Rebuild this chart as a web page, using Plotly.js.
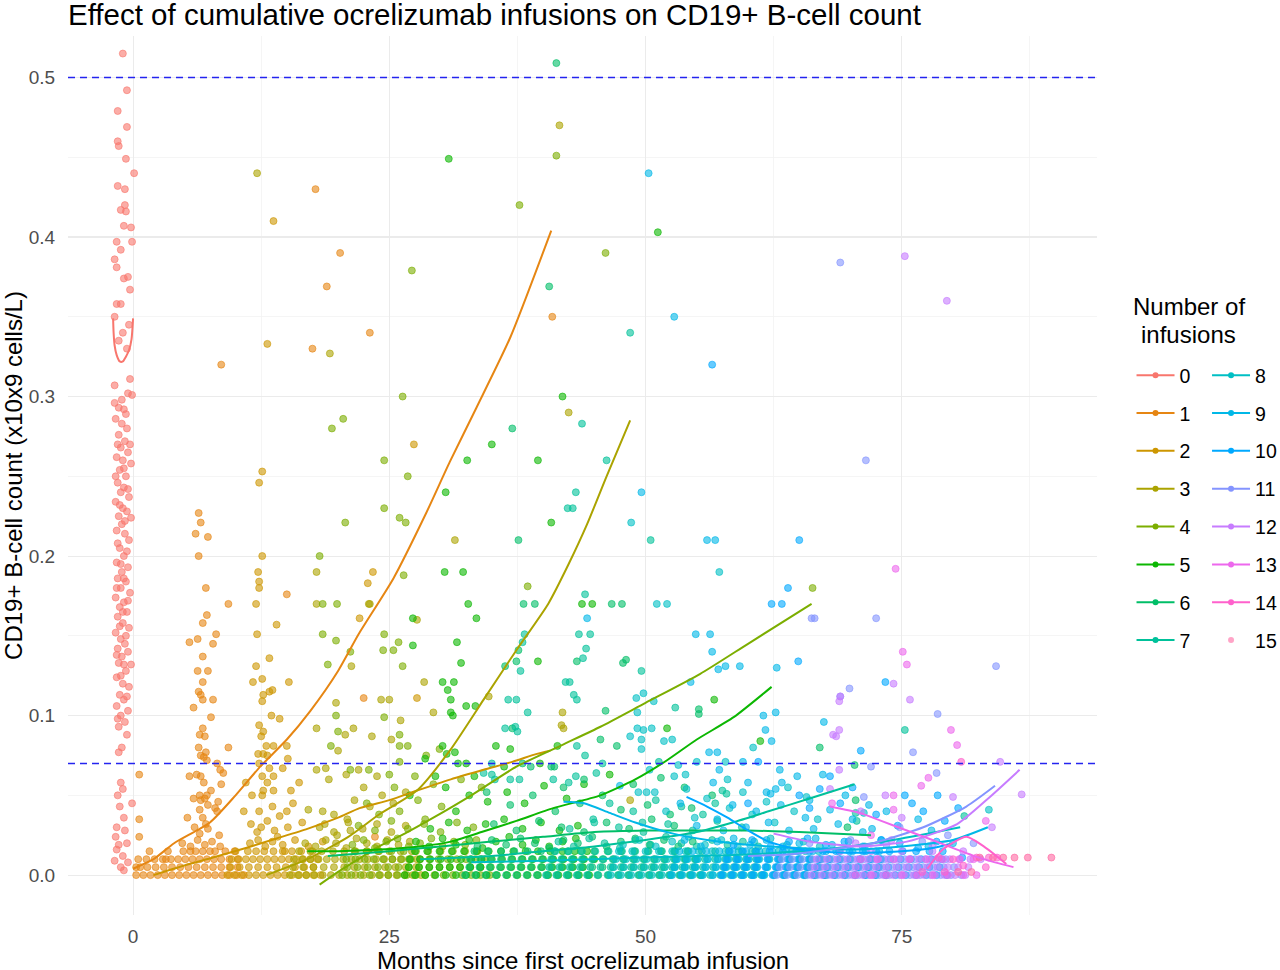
<!DOCTYPE html>
<html>
<head>
<meta charset="utf-8">
<script src="https://cdn.plot.ly/plotly-3.0.1.min.js"></script>
<style>
body{margin:0;background:#fff}
#chart{width:1280px;height:970px}
</style>
</head>
<body>
<div id="chart"></div>
<script>
// groups = number of infusions received so far
const groupNames = ['0','1','2','3','4','5','6','7','8','9','10','11','12','13','14','15'];
const groupColors = ['#F8766D','#E68613','#CD9600','#ABA300','#7CAE00','#0CB702','#00BE67','#00C19A',
                     '#00BFC4','#00B8E7','#00A9FF','#8494FF','#C77CFF','#ED68ED','#FF61CC','#FF68A1'];

// observations per group: [months since first infusion, CD19+ count]
const pts0 = [
[-1.0,0.515],[-0.6,0.492],[-1.5,0.479],[-0.6,0.469],[-1.5,0.46],[-1.4,0.457],[-0.7,0.449],[0.1,0.44],[-1.5,0.432],[-0.8,0.43],
[-0.8,0.42],[-1.2,0.417],[-0.7,0.416],[-0.9,0.407],[-0.2,0.406],[-1.6,0.397],[-0.1,0.397],[-1.2,0.392],[-1.8,0.386],[-1.6,0.381],
[-0.9,0.374],[-0.5,0.375],[-0.3,0.367],[-1.6,0.358],[-1.2,0.358],[-1.8,0.35],[-0.4,0.345],[-1.0,0.34],[-1.4,0.335],[-0.6,0.33],
[-0.3,0.311],[-1.8,0.307],[-0.5,0.302],[-0.1,0.301],[-1.8,0.296],[-1.4,0.293],[-0.9,0.292],[-1.7,0.286],[-1.1,0.283],[-0.6,0.28],
[-1.4,0.276],[-0.8,0.272],[-1.2,0.268],[-0.5,0.265],[-1.6,0.262],[-1.0,0.26],[-0.2,0.258],[-1.3,0.254],[-0.7,0.25],[-1.5,0.246],
[-0.9,0.243],[-1.2,0.24],[-0.4,0.237],[-1.7,0.234],[-1.0,0.23],[-0.6,0.228],[-1.4,0.225],[-0.2,0.224],[-1.1,0.22],[-1.6,0.216],
[-0.8,0.214],[-0.4,0.21],[-1.3,0.205],[-0.9,0.2],[-1.6,0.196],[-0.5,0.193],[-1.1,0.19],[-1.5,0.186],[-0.7,0.184],[-1.2,0.18],
[-0.3,0.177],[-1.7,0.174],[-0.9,0.171],[-1.3,0.168],[-0.6,0.165],[-1.5,0.162],[-1.0,0.158],[-0.4,0.155],[-1.7,0.152],[-1.2,0.148],
[-0.8,0.145],[-1.5,0.142],[-0.5,0.14],[-1.1,0.137],[-1.4,0.133],[-0.2,0.132],[-0.7,0.128],[-1.6,0.124],[-1.0,0.12],[-0.4,0.118],
[-1.3,0.113],[-0.9,0.11],[-1.6,0.106],[-0.5,0.103],[-1.2,0.1],[-0.8,0.096],[-1.4,0.093],[-1.1,0.08],[-1.4,0.077],[-1.2,0.058],
[-1.0,0.054],[-1.5,0.05],[-0.1,0.045],[-1.6,0.03],[-0.8,0.028],[-1.7,0.024],[-0.6,0.02],[-1.6,0.016],[-1.0,0.012],[-1.8,0.009],
[-1.2,0.005],[-0.9,0.003],
[-1.1,0.298],[-0.7,0.289],[-1.5,0.27],[-0.3,0.27],[-0.9,0.255],[-1.7,0.25],[-0.5,0.242],[-1.3,0.232],[-0.8,0.222],[-1.5,0.208],
[-0.6,0.203],[-1.2,0.195],[-0.9,0.186],[-1.6,0.18],[-0.5,0.172],[-1.0,0.165],[-1.3,0.156],[-0.7,0.15],[-1.6,0.138],[-0.9,0.132],
[-1.2,0.125],[-0.6,0.112],[-1.5,0.098],[-0.6,0.088],[-1.3,0.043],[-0.9,0.036],[-1.4,0.019],[-0.5,0.008]
];
const pts1 = [
[6.4,0.227],[6.6,0.221],[6.1,0.214],[7.3,0.212],[6.4,0.2],[7.1,0.18],[9.3,0.17],[15,0.176],[8.6,0.32],
[17.8,0.43],[20.2,0.39],[18.9,0.369],[23.1,0.34],[17.5,0.33],[40.9,0.35],[22.5,0.111],[23.6,0.024],
[7.2,0.163],[6.8,0.158],[8.1,0.151],[5.5,0.146],[6.3,0.148],[7.8,0.145],[6.8,0.137],[6.3,0.128],[7.3,0.128],[6.8,0.121],
[6.4,0.115],[6.6,0.113],[6.8,0.11],[7.8,0.11],[5.9,0.105],[7.6,0.099],[6.8,0.092],[6.5,0.088],[7.0,0.087],[9.3,0.08],
[6.4,0.08],[7.1,0.077],[6.6,0.075],[7.2,0.072],[6.9,0.074],[8.2,0.07],[8.5,0.066],[8.8,0.064],[5.5,0.062],[6.2,0.063],
[6.6,0.062],[6.9,0.058],[6.5,0.05],[7.2,0.05],[7.6,0.053],[6.6,0.047],[8.6,0.057],[0.6,0.063],[0.6,0.035],[0.6,0.024],
[5.3,0.036],[5.9,0.048],[7.0,0.048],[6.5,0.041],[7.3,0.044],[6.8,0.036],[7.1,0.032],[6.0,0.03],[7.3,0.029],[6.5,0.026],
[8.3,0.046],[8.0,0.042],[8.2,0.04],[8.4,0.025],[3.2,0.01],
[0.3,0],[1.0,0],[1.7,0],[2.4,0],[3.1,0],[3.8,0],[4.5,0],[5.2,0],[5.9,0],[6.6,0],[7.3,0],[8.0,0],[8.7,0],[9.4,0],[10.1,0],[10.8,0],
[0.5,0.01],[1.3,0.01],[2.1,0.01],[2.9,0.01],[3.7,0.01],[4.4,0.01],[5.1,0.01],[5.8,0.01],[6.5,0.01],[7.2,0.01],[7.9,0.01],[8.6,0.01],
[9.4,0.01],[10.2,0.01],[0.3,0.005],[4.8,0.02],[5.6,0.018],[6.3,0.022],[7.0,0.019],[7.7,0.021],[8.5,0.018],[6.1,0.015],[7.5,0.015]
];
const pts2 = [
[13.7,0.41],[13.1,0.333],[12.6,0.253],[12.3,0.246],[12.6,0.2],[12.2,0.19],[12.3,0.184],[12.3,0.18],[22.9,0.183],[23.4,0.19],
[27.4,0.27],[27.7,0.111],[22.1,0.161],
[12,0.17],[12.1,0.151],[14,0.157],[13.3,0.136],[12,0.131],[11.7,0.121],[12.6,0.123],[15.2,0.121],[12.7,0.113],[13.3,0.115],
[13.6,0.116],[12.6,0.109],[13.5,0.1],[14.3,0.098],[12.3,0.094],[12.7,0.09],[12.5,0.087],[13,0.081],[13.7,0.081],[15,0.081],
[12.7,0.076],[13.1,0.075],[12.2,0.076],[12.3,0.07],[13.3,0.067],[15.1,0.073],[12.6,0.062],[13.7,0.062],[13.1,0.058],[15.4,0.053],
[13.7,0.053],[12.7,0.053],[11.6,0.05],[12.6,0.05],[13.6,0.043],[14.3,0.037],[12.3,0.04],[11.5,0.032],[13.1,0.034],[12.1,0.027],
[14.1,0.024],[15.1,0.03],[15.6,0.045],[16.5,0.033],[10.8,0.04],[14.8,0.015],[16.2,0.058],[11.0,0.058],[14.6,0.067],
[9.2,0],[9.9,0],[10.6,0],[11.3,0],[12.0,0],[12.7,0],[13.4,0],[14.1,0],[14.8,0],[15.5,0],[16.2,0],[16.9,0],[17.6,0],[18.3,0],
[9.6,0.01],[10.3,0.01],[11.0,0.01],[11.7,0.01],[12.4,0.01],[13.1,0.01],[13.8,0.01],[14.5,0.01],[15.2,0.01],[15.9,0.01],[16.6,0.01],
[17.3,0.01],[18.0,0.01],
[11.4,0.02],[12.2,0.022],[12.9,0.018],[13.6,0.021],[14.6,0.019],[15.8,0.022],[17.1,0.018],[18.5,0.021],[12.5,0.03],[13.8,0.028],[15.0,0.04]
];
const pts3 = [
[12.1,0.44],[19.2,0.327],[41.6,0.47],[42.5,0.29],[31.4,0.21],[17.9,0.19],[23,0.17],[23.1,0.17],[27.7,0.16],[17.9,0.17],
[28.4,0.121],[24.2,0.11],[25,0.11],[34.7,0.112],[26.1,0.097],[29.3,0.102],[41.9,0.102],[21.5,0.092],[41.8,0.094],[42,0.092],
[23.3,0.087],[25.2,0.085],[48.5,0.047],[17.9,0.092],[21.3,0.131],[19.8,0.108],[20.7,0.088],[20.0,0.078],[17.9,0.066],[18.8,0.067],
[20.8,0.063],[19.1,0.06],[17.1,0.041],[18.5,0.04],[19.6,0.038],[20.9,0.035],[21.2,0.028],[18.7,0.032],[19.9,0.025],
[22.0,0.066],[23.8,0.062],[22.5,0.055],[24.3,0.05],[21.6,0.047],[23.1,0.043],[25.4,0.045],[26.6,0.052],
[15.3,0],[16.1,0],[16.9,0],[17.7,0],[18.5,0],[19.3,0],[20.1,0],[20.9,0],[21.7,0],[22.5,0],[23.3,0],[24.1,0],[24.9,0],[25.7,0],
[26.5,0],[27.3,0],[28.1,0],
[15.7,0.01],[16.5,0.01],[17.3,0.01],[18.1,0.01],[18.9,0.01],[19.7,0.01],[20.5,0.01],[21.3,0.01],[22.1,0.01],[22.9,0.01],[23.7,0.01],
[24.5,0.01],[25.3,0.01],[26.1,0.01],[26.9,0.01],[27.7,0.01],
[16.8,0.02],[17.8,0.018],[18.8,0.022],[19.8,0.02],[20.8,0.017],[21.8,0.023],[22.8,0.02],[23.8,0.018],[24.8,0.022],[25.9,0.019],
[27.0,0.021],[18.2,0.03],[19.6,0.027],[21.0,0.033],[22.4,0.029],[23.8,0.032],[25.2,0.027],[26.6,0.031]
];
const pts4 = [
[26.3,0.3],[19.4,0.28],[20.5,0.286],[24.5,0.26],[26.8,0.25],[27.2,0.379],[24.5,0.23],[26,0.224],[26.6,0.221],[20.7,0.221],
[26.4,0.188],[41.3,0.451],[37.7,0.42],[46.1,0.39],[38.5,0.181],[66.3,0.18],[18.2,0.2],[19.9,0.17],[18.5,0.17],[24.5,0.151],
[25.9,0.146],[24.4,0.141],[25.4,0.141],[26.3,0.131],[24.5,0.099],[26,0.088],[26,0.081],[26.8,0.081],[18.5,0.151],[19,0.132],
[19.8,0.147],[21.2,0.14],[19.8,0.1],[20,0.09],[19.3,0.081],[29.9,0.079],[28.6,0.075],[26,0.071],[23,0.066],[25,0.063],
[27.5,0.062],[29.3,0.057],[25.5,0.055],[21.2,0.066],[27.8,0.047],[30.1,0.043],[24.0,0.038],[28.5,0.035],
[22.8,0.045],[26.0,0.04],[32.0,0.06],[34.0,0.055],
[20.4,0],[21.3,0],[22.2,0],[23.1,0],[24.0,0],[24.9,0],[25.8,0],[26.7,0],[27.6,0],[28.5,0],[29.4,0],[30.3,0],[31.2,0],[32.1,0],
[33.0,0],[33.9,0],[34.8,0],
[20.8,0.01],[21.7,0.01],[22.6,0.01],[23.5,0.01],[24.4,0.01],[25.3,0.01],[26.2,0.01],[27.1,0.01],[28.0,0.01],[28.9,0.01],[29.8,0.01],
[30.7,0.01],[31.6,0.01],[32.5,0.01],[33.4,0.01],[34.3,0.01],
[21.4,0.019],[22.5,0.022],[23.6,0.017],[24.7,0.021],[25.8,0.023],[26.9,0.018],[28.0,0.02],[29.1,0.023],[30.2,0.018],[31.3,0.021],
[32.4,0.019],[33.5,0.022],
[22.0,0.031],[23.6,0.028],[25.2,0.034],[26.8,0.029],[28.4,0.032],[30.0,0.027],[31.6,0.033],[33.2,0.03]
];
const pts5 = [
[30.8,0.449],[32.6,0.26],[30.5,0.24],[30.4,0.19],[32.2,0.19],[32.7,0.17],[41.9,0.3],[35,0.27],[39.5,0.26],[40.8,0.221],
[44.8,0.17],[51.2,0.403],[27.3,0.161],[33.5,0.161],[43.8,0.17],[31.6,0.146],[32,0.133],[39.5,0.134],[30.2,0.121],[31.3,0.121],
[30.7,0.116],[31,0.11],[31,0.102],[31.2,0.1],[32.5,0.106],[33.4,0.106],[27.3,0.144],[30.2,0.081],[30.6,0.076],[31.4,0.077],
[35.4,0.081],[36.8,0.079],[41.4,0.081],[28.5,0.073],[31.7,0.07],[32.5,0.07],[33.3,0.062],[36.2,0.068],[39.7,0.07],[56.7,0.11],
[52.1,0.092],[61.2,0.084],[30.5,0.055],[32.8,0.05],[34.6,0.046],[36.5,0.052],[38.2,0.045],[40.1,0.056],[42.3,0.048],[31.5,0.04],
[44.0,0.057],[46.5,0.063],[29.5,0.062],[27.0,0.05],
[26.5,0],[27.5,0],[28.5,0],[29.5,0],[30.5,0],[31.5,0],[32.5,0],[33.5,0],[34.5,0],[35.5,0],[36.5,0],[37.5,0],[38.5,0],[39.5,0],
[40.5,0],[41.5,0],[42.5,0],[43.5,0],[44.5,0],
[27.0,0.01],[28.0,0.01],[29.0,0.01],[30.0,0.01],[31.0,0.01],[32.0,0.01],[33.0,0.01],[34.0,0.01],[35.0,0.01],[36.0,0.01],[37.0,0.01],
[38.0,0.01],[39.0,0.01],[40.0,0.01],[41.0,0.01],[42.0,0.01],[43.0,0.01],[44.0,0.01],[45.0,0.01],
[27.6,0.021],[28.9,0.018],[30.2,0.023],[31.5,0.019],[32.8,0.022],[34.1,0.017],[35.4,0.021],[36.7,0.024],[38.0,0.019],[39.3,0.022],
[40.6,0.018],[41.9,0.021],[43.2,0.023],
[29.0,0.029],[30.8,0.033],[32.6,0.028],[34.4,0.032],[36.2,0.035],[38.0,0.029],[39.8,0.033],[41.6,0.028],[43.4,0.031]
];
const pts6 = [
[41.3,0.509],[40.6,0.369],[37,0.28],[37.6,0.21],[39.2,0.17],[47.7,0.17],[38.1,0.17],[46.7,0.17],[47.8,0.133],[48.1,0.135],
[46.1,0.103],[55.2,0.104],[55.2,0.101],[67,0.08],[70.4,0.069],[70.5,0.047],[69.7,0.03],[37.6,0.141],[37.4,0.134],[36.3,0.131],
[43.3,0.134],[38.8,0.068],[41.1,0.068],[37,0.092],[38,0.07],[40.8,0.068],[45.6,0.085],[47.2,0.081],[44,0.06],[42,0.055],
[34.5,0.052],[36.8,0.044],[39.0,0.05],[41.2,0.04],[43.6,0.045],[45.8,0.05],[47.6,0.041],[50.2,0.044],[52.4,0.038],[54.5,0.042],
[48.8,0.057],[51.5,0.061],[53.8,0.055],[56.5,0.05],
[32.4,0],[33.4,0],[34.4,0],[35.4,0],[36.4,0],[37.4,0],[38.4,0],[39.4,0],[40.4,0],[41.4,0],[42.4,0],[43.4,0],[44.4,0],[45.4,0],
[46.4,0],[47.4,0],[48.4,0],[49.4,0],[50.4,0],[51.4,0],[52.4,0],[53.4,0],[54.4,0],[55.4,0],
[32.9,0.01],[33.9,0.01],[34.9,0.01],[35.9,0.01],[36.9,0.01],[37.9,0.01],[38.9,0.01],[39.9,0.01],[40.9,0.01],[41.9,0.01],[42.9,0.01],
[43.9,0.01],[44.9,0.01],[45.9,0.01],[46.9,0.01],[47.9,0.01],[48.9,0.01],[49.9,0.01],[50.9,0.01],[51.9,0.01],[52.9,0.01],[53.9,0.01],
[54.9,0.01],
[33.6,0.018],[35.0,0.022],[36.4,0.019],[37.8,0.023],[39.2,0.02],[40.6,0.017],[42.0,0.022],[43.4,0.02],[44.8,0.024],[46.2,0.018],
[47.6,0.021],[49.0,0.023],[50.4,0.019],[51.8,0.022],[53.2,0.018],[54.6,0.021],
[35.2,0.032],[37.4,0.028],[39.6,0.034],[41.8,0.03],[44.0,0.027],[46.2,0.033],[48.4,0.029],[50.6,0.035],[52.8,0.031]
];
const pts7 = [
[48.5,0.34],[43.8,0.283],[46.2,0.26],[43.2,0.24],[42.4,0.23],[42.9,0.23],[50.5,0.21],[44.1,0.176],[38.2,0.151],[43.5,0.151],
[44.6,0.151],[38,0.146],[37.8,0.128],[43.9,0.136],[44.2,0.142],[42.2,0.121],[42.6,0.121],[36.6,0.11],[37.4,0.11],[43,0.113],
[43.3,0.11],[38.5,0.102],[37.3,0.093],[37.5,0.09],[36.3,0.092],[43.3,0.081],[44.1,0.075],[49.6,0.128],[52.9,0.105],[51.3,0.071],
[57.5,0.053],[57.9,0.051],[70.6,0.034],[81.1,0.037],[35,0.07],[34.2,0.064],[35,0.063],[35.3,0.06],[36.8,0.06],[37.7,0.06],
[45.2,0.064],[45.8,0.07],[41,0.06],[42.5,0.058],[43.2,0.062],[75.3,0.091],[70.5,0.039],
[46.5,0.045],[48.8,0.04],[51.0,0.047],[53.5,0.043],[55.6,0.038],[44.9,0.035],[49.7,0.033],[56.8,0.045],
[40.3,0],[41.3,0],[42.3,0],[43.3,0],[44.3,0],[45.3,0],[46.3,0],[47.3,0],[48.3,0],[49.3,0],[50.3,0],[51.3,0],[52.3,0],[53.3,0],
[54.3,0],[55.3,0],[56.3,0],[57.3,0],[58.3,0],[59.3,0],[60.3,0],[61.3,0],
[40.8,0.01],[41.8,0.01],[42.8,0.01],[43.8,0.01],[44.8,0.01],[45.8,0.01],[46.8,0.01],[47.8,0.01],[48.8,0.01],[49.8,0.01],[50.8,0.01],
[51.8,0.01],[52.8,0.01],[53.8,0.01],[54.8,0.01],[55.8,0.01],[56.8,0.01],[57.8,0.01],[58.8,0.01],[59.8,0.01],[60.8,0.01],
[41.5,0.021],[43.0,0.018],[44.5,0.023],[46.0,0.02],[47.5,0.017],[49.0,0.022],[50.5,0.019],[52.0,0.024],[53.5,0.02],[55.0,0.018],
[56.5,0.022],[58.0,0.019],[59.5,0.021],[61.0,0.018],
[42.6,0.029],[45.0,0.033],[47.4,0.03],[49.8,0.027],[52.2,0.032],[54.6,0.028],[57.0,0.034],[59.4,0.03]
];
const pts8 = [
[48.6,0.221],[57.2,0.19],[52.1,0.17],[51.1,0.17],[49.1,0.111],[49.8,0.114],[50.8,0.109],[49.2,0.102],[49.2,0.092],[49.8,0.091],
[50.6,0.092],[48.5,0.087],[49.6,0.085],[49.6,0.079],[51.8,0.084],[52.6,0.085],[50.4,0.066],[53.2,0.069],[53.9,0.063],[52.8,0.062],
[49.3,0.052],[50.1,0.052],[50.9,0.052],[54,0.054],[71.3,0.039],[83.5,0.041],[60.5,0.08],[57.8,0.071],[55,0.071],
[52.0,0.04],[54.8,0.036],[58.2,0.042],[60.4,0.038],[62.6,0.033],[64.5,0.04],[66.8,0.035],
[56.0,0.048],[59.5,0.052],[61.8,0.046],[63.9,0.055],[65.7,0.049],[58.0,0.06],
[46.6,0],[47.6,0],[48.6,0],[49.6,0],[50.6,0],[51.6,0],[52.6,0],[53.6,0],[54.6,0],[55.6,0],[56.6,0],[57.6,0],[58.6,0],[59.6,0],
[60.6,0],[61.6,0],[62.6,0],[63.6,0],[64.6,0],[65.6,0],[66.6,0],[67.6,0],
[47.1,0.01],[48.1,0.01],[49.1,0.01],[50.1,0.01],[51.1,0.01],[52.1,0.01],[53.1,0.01],[54.1,0.01],[55.1,0.01],[56.1,0.01],[57.1,0.01],
[58.1,0.01],[59.1,0.01],[60.1,0.01],[61.1,0.01],[62.1,0.01],[63.1,0.01],[64.1,0.01],[65.1,0.01],[66.1,0.01],[67.1,0.01],
[47.8,0.019],[49.4,0.022],[51.0,0.018],[52.6,0.021],[54.2,0.024],[55.8,0.019],[57.4,0.022],[59.0,0.018],[60.6,0.021],[62.2,0.023],
[63.8,0.019],[65.4,0.021],[67.0,0.018]
];
const pts9 = [
[50.3,0.44],[52.8,0.35],[49.6,0.24],[56,0.21],[56.8,0.21],[44.3,0.161],[54.9,0.151],[56.3,0.151],[56.5,0.14],[57.1,0.129],
[57.8,0.131],[59.2,0.131],[62.8,0.13],[54.4,0.121],[62.7,0.102],[61.5,0.1],[67.4,0.096],[61.7,0.091],[62.3,0.084],[56.2,0.077],
[57,0.077],[59.5,0.071],[57.2,0.066],[56.6,0.058],[63.1,0.066],[63.3,0.058],[62.7,0.054],[61.8,0.052],[62.2,0.051],[47.5,0.056],
[76.6,0.035],[70.2,0.035],[72.1,0.029],[77.9,0.028],[80,0.02],[77.6,0.018],[67.3,0.063],
[58.5,0.044],[60.8,0.04],[63.2,0.044],[65.6,0.036],[68.0,0.041],[59.8,0.03],[64.0,0.028],[57.0,0.035],[53.4,0.045],
[66.0,0.047],[69.5,0.05],[71.8,0.044],[73.5,0.04],[60.0,0.058],[64.8,0.062],
[52.5,0],[53.5,0],[54.5,0],[55.5,0],[56.5,0],[57.5,0],[58.5,0],[59.5,0],[60.5,0],[61.5,0],[62.5,0],[63.5,0],[64.5,0],[65.5,0],
[66.5,0],[67.5,0],[68.5,0],[69.5,0],[70.5,0],[71.5,0],[72.5,0],[73.5,0],
[53.0,0.01],[54.0,0.01],[55.0,0.01],[56.0,0.01],[57.0,0.01],[58.0,0.01],[59.0,0.01],[60.0,0.01],[61.0,0.01],[62.0,0.01],[63.0,0.01],
[64.0,0.01],[65.0,0.01],[66.0,0.01],[67.0,0.01],[68.0,0.01],[69.0,0.01],[70.0,0.01],[71.0,0.01],[72.0,0.01],[73.0,0.01],
[53.8,0.022],[55.4,0.018],[57.0,0.021],[58.6,0.023],[60.2,0.019],[61.8,0.022],[63.4,0.018],[65.0,0.02],[66.6,0.023],[68.2,0.019],
[69.8,0.021],[71.4,0.018],[73.0,0.022],
[55.0,0.031],[57.6,0.028],[62.0,0.033],[66.4,0.029],[68.8,0.032],[71.2,0.027]
];
const pts10 = [
[56.5,0.32],[65,0.21],[63.9,0.18],[63.3,0.17],[62.3,0.17],[64.9,0.134],[61,0.071],[73.4,0.121],[71,0.078],[75.3,0.05],
[77.1,0.04],[80.9,0.011],[65,0.05],[67,0.054],[60,0.045],[66,0.042],[69.0,0.045],[72.5,0.038],[74.6,0.031],[79.2,0.034],
[68.0,0.062],[70.2,0.055],[76.0,0.045],[78.5,0.05],[80.5,0.042],
[57.4,0],[58.4,0],[59.4,0],[60.4,0],[61.4,0],[62.4,0],[63.4,0],[64.4,0],[65.4,0],[66.4,0],[67.4,0],[68.4,0],[69.4,0],[70.4,0],
[71.4,0],[72.4,0],[73.4,0],[74.4,0],[75.4,0],[76.4,0],[77.4,0],[78.4,0],[79.4,0],
[57.9,0.01],[58.9,0.01],[59.9,0.01],[60.9,0.01],[61.9,0.01],[62.9,0.01],[63.9,0.01],[64.9,0.01],[65.9,0.01],[66.9,0.01],[67.9,0.01],
[68.9,0.01],[69.9,0.01],[70.9,0.01],[71.9,0.01],[72.9,0.01],[73.9,0.01],[74.9,0.01],[75.9,0.01],[76.9,0.01],[77.9,0.01],[78.9,0.01],
[58.6,0.019],[60.4,0.022],[62.2,0.018],[64.0,0.021],[65.8,0.023],[67.6,0.019],[69.4,0.021],[71.2,0.018],[73.0,0.022],[74.8,0.02],
[76.6,0.017],[78.4,0.021]
];
const pts11 = [
[69,0.384],[71.5,0.26],[72.5,0.161],[66.2,0.161],[66.5,0.161],[69.9,0.117],[69,0.112],[84.2,0.131],[78.5,0.101],[76.1,0.077],
[72,0.068],[78.4,0.064],[71.3,0.049],[74.8,0.03],[79.5,0.025],[82.0,0.02],
[62.8,0],[63.8,0],[64.8,0],[65.8,0],[66.8,0],[67.8,0],[68.8,0],[69.8,0],[70.8,0],[71.8,0],[72.8,0],[73.8,0],[74.8,0],[75.8,0],
[76.8,0],[77.8,0],[78.8,0],[79.8,0],[80.8,0],
[63.3,0.01],[64.3,0.01],[65.3,0.01],[66.3,0.01],[67.3,0.01],[68.3,0.01],[69.3,0.01],[70.3,0.01],[71.3,0.01],[72.3,0.01],[73.3,0.01],
[74.3,0.01],[75.3,0.01],[76.3,0.01],[77.3,0.01],[78.3,0.01],[79.3,0.01],
[66.0,0.02],[70.0,0.022],[73.5,0.019],[77.0,0.021]
];
const pts12 = [
[75.3,0.388],[79.4,0.36],[69,0.112],[68.9,0.109],[74.2,0.12],[75.8,0.11],[68.3,0.088],[68.6,0.087],[68.9,0.091],[84.6,0.071],
[86.7,0.0506],[73.4,0.05],[80,0.049],[68,0.054],[68.9,0.066],[71.0,0.04],[75.0,0.036],[83.8,0.03],
[66.2,0],[67.2,0],[68.2,0],[69.2,0],[70.2,0],[71.2,0],[72.2,0],[73.2,0],[74.2,0],[75.2,0],[76.2,0],[77.2,0],[78.2,0],[79.2,0],
[80.2,0],[81.2,0],
[66.7,0.01],[67.7,0.01],[68.7,0.01],[69.7,0.01],[70.7,0.01],[71.7,0.01],[72.7,0.01],[73.7,0.01],[74.7,0.01],[75.7,0.01],[76.7,0.01],
[77.7,0.01],[78.7,0.01],[79.7,0.01],[80.7,0.01],[81.7,0.01],[82.7,0.01],
[70.5,0.02],[74.0,0.022],[78.0,0.019]
];
const pts13 = [
[74.4,0.192],[75.1,0.14],[75.5,0.132],[79.8,0.091],[80.4,0.0815],[77.6,0.061],[76.9,0.056],[74.2,0.05],[74.2,0.041],[83.2,0.034],
[68.2,0.045],[72.0,0.025],
[70.5,0],[72.0,0],[73.5,0],[75.0,0],[76.5,0],[78.0,0],[79.5,0],[81.0,0],[82.3,0],
[71.0,0.01],[72.6,0.01],[74.2,0.01],[75.8,0.01],[77.4,0.01],[79.0,0.01],[80.6,0.01],[82.0,0.01]
];
const pts14 = [
[80.8,0.071],[81.0,0.006],[83.2,0.005],[82.3,0.011],[83.5,0.011],[84.3,0.011],[77.0,0.002],[78.6,0.011],[80.0,0.01],[79.2,0.002]
];
const pts15 = [
[84.9,0.011],[86.0,0.011],[87.3,0.011],[89.6,0.011],[82.6,0.011],[83.9,0.011],[80.5,0.002],[81.8,0.002]
];

// more of the crowded floor (counts near 0.005 and 0.015)
const low1 = [[0.7,0.005],[1.4,0.005],[2.2,0.005],[3.0,0.005],[3.8,0.005],[4.6,0.005],[5.4,0.005],[6.2,0.005],[7.0,0.005],[7.8,0.005],
[8.6,0.005],[9.4,0.005],[10.2,0.005],[1.6,0.015],[3.4,0.015],[4.9,0.015],[5.6,0.015],[6.8,0.015],[8.0,0.015],[9.0,0.015],[9.9,0.015]];
const low2 = [[9.5,0.005],[10.4,0.005],[11.3,0.005],[12.2,0.005],[13.1,0.005],[14.0,0.005],[14.9,0.005],[15.8,0.005],[16.7,0.005],
[17.6,0.005],[10.0,0.015],[11.2,0.015],[12.0,0.015],[12.8,0.015],[13.7,0.015],[14.6,0.015],[15.5,0.015],[16.4,0.015],[17.5,0.015]];
const low3 = [[15.6,0.005],[16.6,0.005],[17.6,0.005],[18.6,0.005],[19.6,0.005],[20.6,0.005],[21.6,0.005],[22.6,0.005],[23.6,0.005],
[24.6,0.005],[25.6,0.005],[26.6,0.005],[27.6,0.005],[16.2,0.015],[17.3,0.015],[18.4,0.015],[19.5,0.015],[20.6,0.015],[21.7,0.015],
[22.8,0.015],[23.9,0.015],[25.0,0.015],[26.1,0.015],[27.2,0.015]];
const low4 = [[20.9,0.005],[21.9,0.005],[22.9,0.005],[23.9,0.005],[24.9,0.005],[25.9,0.005],[26.9,0.005],[27.9,0.005],[28.9,0.005],
[29.9,0.005],[30.9,0.005],[31.9,0.005],[32.9,0.005],[33.9,0.005],[21.6,0.015],[22.8,0.015],[24.0,0.015],[25.2,0.015],[26.4,0.015],
[27.6,0.015],[28.8,0.015],[30.0,0.015],[31.2,0.015],[32.4,0.015],[33.6,0.015]];
const low5 = [[26.9,0.005],[27.9,0.005],[28.9,0.005],[29.9,0.005],[30.9,0.005],[31.9,0.005],[32.9,0.005],[33.9,0.005],[34.9,0.005],
[35.9,0.005],[36.9,0.005],[37.9,0.005],[38.9,0.005],[39.9,0.005],[40.9,0.005],[41.9,0.005],[42.9,0.005],[43.9,0.005],
[27.5,0.015],[28.7,0.015],[29.9,0.015],[31.1,0.015],[32.3,0.015],[33.5,0.015],[34.7,0.015],[35.9,0.015],[37.1,0.015],[38.3,0.015],
[39.5,0.015],[40.7,0.015],[41.9,0.015],[43.1,0.015],[44.3,0.015]];
const low6 = [[32.8,0.005],[33.8,0.005],[34.8,0.005],[35.8,0.005],[36.8,0.005],[37.8,0.005],[38.8,0.005],[39.8,0.005],[40.8,0.005],
[41.8,0.005],[42.8,0.005],[43.8,0.005],[44.8,0.005],[45.8,0.005],[46.8,0.005],[47.8,0.005],[48.8,0.005],[49.8,0.005],[50.8,0.005],
[51.8,0.005],[52.8,0.005],[53.8,0.005],[54.8,0.005],
[33.3,0.015],[34.6,0.015],[35.9,0.015],[37.2,0.015],[38.5,0.015],[39.8,0.015],[41.1,0.015],[42.4,0.015],[43.7,0.015],[45.0,0.015],
[46.3,0.015],[47.6,0.015],[48.9,0.015],[50.2,0.015],[51.5,0.015],[52.8,0.015],[54.1,0.015]];
const low7 = [[40.6,0.005],[41.6,0.005],[42.6,0.005],[43.6,0.005],[44.6,0.005],[45.6,0.005],[46.6,0.005],[47.6,0.005],[48.6,0.005],
[49.6,0.005],[50.6,0.005],[51.6,0.005],[52.6,0.005],[53.6,0.005],[54.6,0.005],[55.6,0.005],[56.6,0.005],[57.6,0.005],[58.6,0.005],
[59.6,0.005],[60.6,0.005],
[41.2,0.015],[42.5,0.015],[43.8,0.015],[45.1,0.015],[46.4,0.015],[47.7,0.015],[49.0,0.015],[50.3,0.015],[51.6,0.015],[52.9,0.015],
[54.2,0.015],[55.5,0.015],[56.8,0.015],[58.1,0.015],[59.4,0.015],[60.7,0.015]];
const low8 = [[46.9,0.005],[47.9,0.005],[48.9,0.005],[49.9,0.005],[50.9,0.005],[51.9,0.005],[52.9,0.005],[53.9,0.005],[54.9,0.005],
[55.9,0.005],[56.9,0.005],[57.9,0.005],[58.9,0.005],[59.9,0.005],[60.9,0.005],[61.9,0.005],[62.9,0.005],[63.9,0.005],[64.9,0.005],
[65.9,0.005],[66.9,0.005],
[47.4,0.015],[48.7,0.015],[50.0,0.015],[51.3,0.015],[52.6,0.015],[53.9,0.015],[55.2,0.015],[56.5,0.015],[57.8,0.015],[59.1,0.015],
[60.4,0.015],[61.7,0.015],[63.0,0.015],[64.3,0.015],[65.6,0.015],[66.9,0.015]];
const low9 = [[52.8,0.005],[53.8,0.005],[54.8,0.005],[55.8,0.005],[56.8,0.005],[57.8,0.005],[58.8,0.005],[59.8,0.005],[60.8,0.005],
[61.8,0.005],[62.8,0.005],[63.8,0.005],[64.8,0.005],[65.8,0.005],[66.8,0.005],[67.8,0.005],[68.8,0.005],[69.8,0.005],[70.8,0.005],
[71.8,0.005],[72.8,0.005],
[53.3,0.015],[54.6,0.015],[55.9,0.015],[57.2,0.015],[58.5,0.015],[59.8,0.015],[61.1,0.015],[62.4,0.015],[63.7,0.015],[65.0,0.015],
[66.3,0.015],[67.6,0.015],[68.9,0.015],[70.2,0.015],[71.5,0.015],[72.8,0.015]];
const low10 = [[57.7,0.005],[58.7,0.005],[59.7,0.005],[60.7,0.005],[61.7,0.005],[62.7,0.005],[63.7,0.005],[64.7,0.005],[65.7,0.005],
[66.7,0.005],[67.7,0.005],[68.7,0.005],[69.7,0.005],[70.7,0.005],[71.7,0.005],[72.7,0.005],[73.7,0.005],[74.7,0.005],[75.7,0.005],
[76.7,0.005],[77.7,0.005],[78.7,0.005],
[58.2,0.015],[59.5,0.015],[60.8,0.015],[62.1,0.015],[63.4,0.015],[64.7,0.015],[66.0,0.015],[67.3,0.015],[68.6,0.015],[69.9,0.015],
[71.2,0.015],[72.5,0.015],[73.8,0.015],[75.1,0.015],[76.4,0.015],[77.7,0.015],[79.0,0.015]];
const low11 = [[63.1,0.005],[64.1,0.005],[65.1,0.005],[66.1,0.005],[67.1,0.005],[68.1,0.005],[69.1,0.005],[70.1,0.005],[71.1,0.005],
[72.1,0.005],[73.1,0.005],[74.1,0.005],[75.1,0.005],[76.1,0.005],[77.1,0.005],[78.1,0.005],[79.1,0.005],[80.1,0.005]];
const low12 = [[66.5,0.005],[67.5,0.005],[68.5,0.005],[69.5,0.005],[70.5,0.005],[71.5,0.005],[72.5,0.005],[73.5,0.005],[74.5,0.005],
[75.5,0.005],[76.5,0.005],[77.5,0.005],[78.5,0.005],[79.5,0.005],[80.5,0.005],[81.5,0.005],[69.0,0.015],[72.0,0.015],[75.0,0.015],
[78.0,0.015],[81.0,0.015]];

// smoothed trend per group (group 15 has none)
const fit0 = [[-1.95,0.349],[-1.9,0.34],[-1.8,0.332],[-1.6,0.326],[-1.3,0.322],[-1.0,0.322],[-0.7,0.325],[-0.4,0.329],[-0.15,0.336],[0.0,0.349]];
const fit1 = [[0,0.004],[2,0.01],[4,0.02],[7.5,0.033],[10,0.05],[12.4,0.068],[15,0.085],[17.3,0.103],[20,0.128],[22,0.151],[25.4,0.186],[28.6,0.227],[30.9,0.259],[33.5,0.293],[36.8,0.337],[40.8,0.404]];
const fit2 = [[2,0.0],[5,0.006],[7.8,0.011],[11,0.017],[14,0.023],[17,0.029],[20,0.036],[22.1,0.042],[25,0.047],[27.7,0.053],[31,0.06],[34.2,0.066],[37,0.071],[39.4,0.076],[40.7,0.078]];
const fit3 = [[13,0.0],[17,0.01],[21,0.024],[24,0.038],[27.7,0.053],[30.9,0.078],[34.2,0.11],[37.4,0.141],[40.5,0.17],[42.5,0.195],[44.3,0.22],[46.2,0.25],[48.5,0.285]];
const fit4 = [[18.2,-0.006],[20,0.002],[22,0.01],[24,0.018],[26.5,0.026],[29.3,0.036],[33,0.05],[37.4,0.068],[42,0.082],[45.6,0.093],[50,0.108],[55.3,0.126],[60,0.145],[66.2,0.17]];
const fit5 = [[17,0.015],[20,0.015],[24,0.016],[28,0.018],[31,0.021],[34,0.027],[37.4,0.034],[41,0.042],[45.6,0.05],[49,0.06],[52.1,0.072],[55,0.085],[58.6,0.099],[62.3,0.118]];
const fit6 = [[19,0.012],[25,0.015],[30,0.018],[35,0.021],[40,0.024],[45,0.027],[50,0.028],[55,0.028],[60,0.028],[65,0.027],[72,0.025]];
const fit7 = [[28,0.01],[35,0.012],[40,0.015],[45,0.018],[50,0.022],[55,0.027],[58.5,0.033],[62,0.04],[66,0.048],[70.4,0.057]];
const fit8 = [[33,0.008],[40,0.009],[45,0.01],[50,0.011],[55,0.012],[60,0.013],[65,0.015],[70,0.018],[75,0.023],[80.7,0.03]];
const fit9 = [[42,0.046],[44,0.045],[46.5,0.039],[49,0.033],[52.7,0.026],[56,0.022],[60,0.019],[65,0.017],[70,0.016],[75,0.018],[80,0.022],[83.4,0.03]];
const fit10 = [[54,0.049],[56,0.043],[58,0.036],[60,0.028],[62,0.021],[65,0.016],[70,0.014],[75,0.015],[78,0.017],[80,0.02]];
const fit11 = [[60,0.012],[64,0.013],[68,0.016],[72.2,0.02],[77.1,0.03],[81.3,0.043],[84.1,0.056]];
const fit12 = [[62.5,0.026],[66,0.021],[70.9,0.018],[75.5,0.021],[80.4,0.032],[83.6,0.049],[86.5,0.066]];
const fit13 = [[68,0.043],[70.9,0.039],[73,0.034],[75.5,0.028],[78,0.022],[80.4,0.016],[83,0.01],[85.9,0.005]];
const fit14 = [[77.5,0.004],[79,0.016],[81.3,0.024],[83,0.018],[85.2,0.007]];

// reference thresholds
const refLines = [0.5, 0.07];

const allPts = [pts0, pts1.concat(low1), pts2.concat(low2), pts3.concat(low3), pts4.concat(low4), pts5.concat(low5),
                pts6.concat(low6), pts7.concat(low7), pts8.concat(low8), pts9.concat(low9), pts10.concat(low10),
                pts11.concat(low11), pts12.concat(low12), pts13, pts14, pts15];
const allFits = [fit0,fit1,fit2,fit3,fit4,fit5,fit6,fit7,fit8,fit9,fit10,fit11,fit12,fit13,fit14];

function rgba(hex, a){
    let r=parseInt(hex.slice(1,3),16), g=parseInt(hex.slice(3,5),16), b=parseInt(hex.slice(5,7),16);
    return 'rgba('+r+','+g+','+b+','+a+')';
}

let traces = [];

allPts.forEach(function(p, i){
    traces.push({
        type:'scatter', mode:'markers',
        x: p.map(d => d[0]), y: p.map(d => d[1]),
        marker:{size:7, color:rgba(groupColors[i],0.6), line:{width:1, color:rgba(groupColors[i],0.6)}},
        showlegend:false, hoverinfo:'skip'
    });
});

allFits.forEach(function(f, i){
    traces.push({
        type:'scatter', mode:'lines',
        x: f.map(d => d[0]), y: f.map(d => d[1]),
        line:{color:groupColors[i], width:2, shape:'spline', smoothing:0.6},
        showlegend:false, hoverinfo:'skip'
    });
});

// legend keys: 0-7 in the first column, 8-15 in the second
groupNames.forEach(function(g, i){
    let hasFit = i < allFits.length;
    traces.push({
        type:'scatter', mode: hasFit ? 'lines+markers' : 'markers',
        x:[null], y:[null], name:g,
        legend: i < 8 ? 'legend' : 'legend2',
        legendgroup:'g'+i,
        marker:{size:6, color: hasFit ? groupColors[i] : rgba(groupColors[i],0.6)},
        line:{color:groupColors[i], width:2}
    });
});

let shapes = refLines.map(v => ({
    type:'line', xref:'paper', x0:0, x1:1, yref:'y', y0:v, y1:v,
    line:{color:'#2424F0', width:1.4, dash:'7px,5px'}, layer:'above'
}));

const legendBase = {
    xref:'container', yref:'container', xanchor:'left', yanchor:'top',
    y:0.633, font:{size:19.5, color:'#000'}, bgcolor:'rgba(0,0,0,0)',
    tracegroupgap:9.5, itemwidth:38
};

let layout = {
    width:1280, height:970,
    paper_bgcolor:'#fff', plot_bgcolor:'#fff',
    font:{family:'"Liberation Sans", Arial, sans-serif', color:'#000'},
    margin:{l:68, r:183, t:36, b:55},
    title:{text:'Effect of cumulative ocrelizumab infusions on CD19+ B-cell count',
           x:0, xref:'paper', xanchor:'left', y:0.9845, yref:'container', yanchor:'middle',
           font:{size:29.5, color:'#000'}},
    xaxis:{range:[-6.35,94.05], tickvals:[0,25,50,75], ticktext:['0','25','50','75'],
           showgrid:true, gridcolor:'#EBEBEB', gridwidth:1.1, zeroline:false, showline:false,
           ticks:'outside', ticklen:4, tickcolor:'rgba(0,0,0,0)',
           tickfont:{size:19, color:'#4D4D4D'},
           minor:{tickvals:[12.5,37.5,62.5,87.5], showgrid:true, gridcolor:'#F3F3F3', gridwidth:0.8}},
    yaxis:{range:[-0.025,0.526], tickvals:[0,0.1,0.2,0.3,0.4,0.5], ticktext:['0.0','0.1','0.2','0.3','0.4','0.5'],
           showgrid:true, gridcolor:'#EBEBEB', gridwidth:1.1, zeroline:false, showline:false,
           ticks:'outside', ticklen:8, tickcolor:'rgba(0,0,0,0)',
           tickfont:{size:19, color:'#4D4D4D'},
           minor:{tickvals:[0.05,0.15,0.25,0.35,0.45], showgrid:true, gridcolor:'#F3F3F3', gridwidth:0.8},
           title:{text:'CD19+ B-cell count (x10x9 cells/L)', font:{size:24, color:'#000'}, standoff:4}},
    legend:Object.assign({x:0.884}, legendBase),
    legend2:Object.assign({x:0.943}, legendBase),
    shapes:shapes,
    annotations:[
        {text:'Months since first ocrelizumab infusion', xref:'paper', yref:'paper', x:0.5, y:(915-960)/879,
         xanchor:'center', yanchor:'middle', showarrow:false, font:{size:24, color:'#000'}},
        {text:'Number of', xref:'paper', yref:'paper', x:1.0894, y:(915-307)/879, xanchor:'center', yanchor:'middle',
         showarrow:false, font:{size:24, color:'#000'}},
        {text:'infusions', xref:'paper', yref:'paper', x:1.0885, y:(915-334)/879, xanchor:'center', yanchor:'middle',
         showarrow:false, font:{size:24, color:'#000'}}
    ],
    hovermode:false
};

Plotly.newPlot('chart', traces, layout, {staticPlot:true, displayModeBar:false});
</script>
</body>
</html>
